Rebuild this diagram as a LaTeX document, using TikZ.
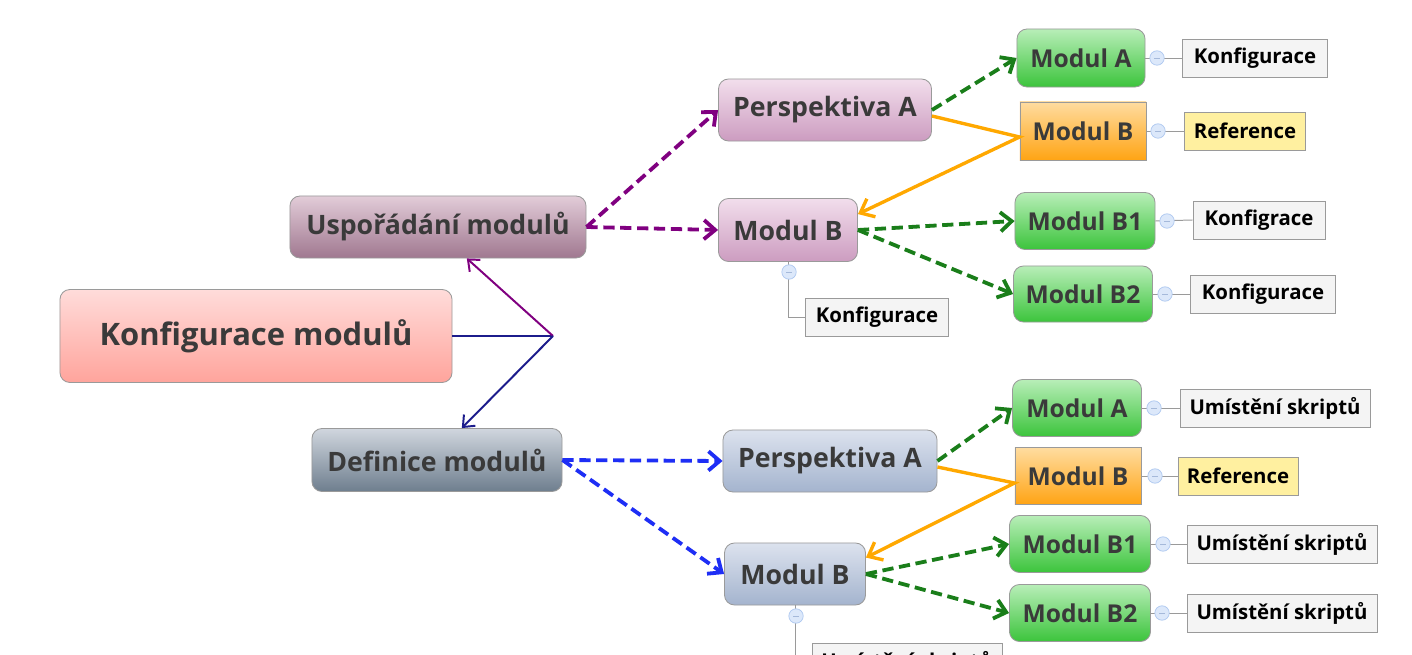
\documentclass[tikz,border=0pt]{standalone}
\usepackage{fontspec}
\setmainfont{Open Sans}
\usetikzlibrary{arrows.meta,calc,positioning}
\definecolor{RootTop}{HTML}{FFDCDA}
\definecolor{RootBottom}{HTML}{FFA49C}
\definecolor{MauveTop}{HTML}{E2CCD8}
\definecolor{MauveBottom}{HTML}{A07890}
\definecolor{SlateTop}{HTML}{D0D6DE}
\definecolor{SlateBottom}{HTML}{6E7E8E}
\definecolor{PinkTop}{HTML}{F2DEEC}
\definecolor{PinkBottom}{HTML}{CC9CC0}
\definecolor{SteelTop}{HTML}{DCE2EE}
\definecolor{SteelBottom}{HTML}{A4B4CE}
\definecolor{GreenTop}{HTML}{B8EEB8}
\definecolor{GreenBottom}{HTML}{3CC43C}
\definecolor{OrangeTop}{HTML}{FFDCA0}
\definecolor{OrangeBottom}{HTML}{FFA414}
\definecolor{NoteFill}{HTML}{F4F4F4}
\definecolor{RefFill}{HTML}{FFF0A0}
\definecolor{Ink}{HTML}{3A3A3A}
\definecolor{Frame}{HTML}{9A9A9A}
\definecolor{ButtonFill}{HTML}{DCE8FA}
\definecolor{ButtonRim}{HTML}{AEC8F0}
\definecolor{FlowPurple}{HTML}{800080}
\definecolor{FlowNavy}{HTML}{1C1C8C}
\definecolor{FlowBlue}{HTML}{1E2EF5}
\definecolor{FlowGreen}{HTML}{1A7E1A}
\definecolor{RefOrange}{HTML}{FFA800}

\begin{document}
\begin{tikzpicture}[
    x=0.025cm, y=-0.025cm,
    topic/.style={
        rounded corners=2.5mm,
        draw=Frame,
        line width=0.6pt,
        inner sep=0pt,
        text=Ink,
        font=\bfseries\fontsize{19}{22}\selectfont
    },
    mauve/.style={top color=MauveTop, bottom color=MauveBottom},
    slate/.style={top color=SlateTop, bottom color=SlateBottom},
    pinkish/.style={top color=PinkTop, bottom color=PinkBottom},
    steel/.style={top color=SteelTop, bottom color=SteelBottom},
    module/.style={topic, top color=GreenTop, bottom color=GreenBottom,
                   font=\bfseries\fontsize{17.5}{20}\selectfont},
    linked/.style={topic, rounded corners=0pt, top color=OrangeTop,
                   bottom color=OrangeBottom,
                   font=\bfseries\fontsize{17.5}{20}\selectfont},
    note/.style={draw=Frame, fill=NoteFill, line width=0.6pt, inner sep=0pt,
                 minimum height=0.95cm, text=black,
                 font=\bfseries\fontsize{14.5}{17}\selectfont},
    button/.style={circle, draw=ButtonRim, fill=ButtonFill, minimum size=0.36cm,
                   inner sep=0pt, line width=0.5pt,
                   path picture={\draw[ButtonRim!80!gray, line width=0.4pt]
                       ([xshift=-0.7mm]path picture bounding box.center) --
                       ([xshift=0.7mm]path picture bounding box.center);}},
    trunk/.style={-{Straight Barb[length=2.4mm,width=4mm]}, line width=1.4pt},
    flow/.style={-{Straight Barb[length=2.8mm,width=4.8mm]}, line width=2.7pt,
                 dash pattern=on 8pt off 4pt},
    refline/.style={-{Straight Barb[length=3mm,width=5mm]}, line width=2.4pt,
                    draw=RefOrange},
    stem/.style={draw=Frame, line width=0.7pt}
]
\useasboundingbox (0,0) rectangle (1412,655);
\clip (0,0) rectangle (1412,655);
\fill[white] (0,0) rectangle (1412,655);

% Root and main branches
\node[topic, top color=RootTop, bottom color=RootBottom, minimum width=9.8cm,
      minimum height=2.325cm, font=\bfseries\fontsize{22}{26}\selectfont]
    (root) at (256,336) {Konfigurace modulů};
\node[topic, mauve, minimum width=7.4cm, minimum height=1.55cm]
    (layout) at (438,227) {Uspořádání modulů};
\node[topic, slate, minimum width=6.25cm, minimum height=1.575cm]
    (define) at (437,460) {Definice modulů};

\coordinate (fork) at (553,336);
\draw[line width=1.4pt, FlowNavy] (root.east) -- (fork);
\draw[trunk, FlowPurple] (fork) -- ([xshift=7.2mm]layout.south);
\draw[trunk, FlowNavy] (fork) -- ([xshift=6.2mm]define.north);

% Upper branch
\node[topic, pinkish, minimum width=5.325cm, minimum height=1.55cm]
    (upPersp) at (825,110) {Perspektiva A};
\node[topic, pinkish, minimum width=3.475cm, minimum height=1.575cm]
    (upModB) at (788,230) {Modul B};
\node[module, minimum width=3.2cm, minimum height=1.45cm]
    (upModA) at (1081,58) {Modul A};
\node[linked, minimum width=3.15cm, minimum height=1.45cm]
    (upRef) at (1083,131) {Modul B};
\node[module, minimum width=3.5cm, minimum height=1.425cm]
    (upModBa) at (1085,221) {Modul B1};
\node[module, minimum width=3.475cm, minimum height=1.4cm]
    (upModBb) at (1083,294) {Modul B2};

\node[note, minimum width=3.625cm] (upNoteA) at (1255,58) {Konfigurace};
\node[note, fill=RefFill, minimum width=3.025cm] (upNoteRef) at (1245,131) {Reference};
\node[note, minimum width=3.3cm] (upNoteBa) at (1259,220) {Konfigrace};
\node[note, minimum width=3.625cm] (upNoteBb) at (1263,294) {Konfigurace};
\node[note, minimum width=3.575cm] (upNoteB) at (877,317) {Konfigurace};

\draw[flow, FlowPurple] (layout.east) -- (upPersp.west);
\draw[flow, FlowPurple] (layout.east) -- (upModB.west);
\draw[flow, FlowGreen] (upPersp.east) -- (upModA.west);
\draw[flow, FlowGreen] (upModB.east) -- (upModBa.west);
\draw[flow, FlowGreen] (upModB.east) -- (upModBb.west);
\draw[refline] ([yshift=-1.5mm]upPersp.east) -- ([yshift=-1.5mm]upRef.west)
    -- ([yshift=-4mm]upModB.north east);

\draw[stem] (upModA.east) -- (upNoteA.west);
\draw[stem] (upRef.east) -- (upNoteRef.west);
\draw[stem] (upModBa.east) -- (upNoteBa.west);
\draw[stem] (upModBb.east) -- (upNoteBb.west);
\draw[stem] (upModB.south) |- (upNoteB.west);
\node[button] (upBtnA) at (1157,58) {};
\node[button] (upBtnRef) at (1158,131) {};
\node[button] (upBtnBa) at (1167,221) {};
\node[button] (upBtnBb) at (1165,294) {};
\node[button] (upBtnB) at (789,272) {};

% Lower branch
\node[topic, steel, minimum width=5.35cm, minimum height=1.55cm]
    (loPersp) at (830,461) {Perspektiva A};
\node[topic, steel, minimum width=3.525cm, minimum height=1.55cm]
    (loModB) at (795,574) {Modul B};
\node[module, minimum width=3.225cm, minimum height=1.425cm]
    (loModA) at (1077,408) {Modul A};
\node[linked, minimum width=3.15cm, minimum height=1.425cm]
    (loRef) at (1078,476) {Modul B};
\node[module, minimum width=3.525cm, minimum height=1.425cm]
    (loModBa) at (1080,544) {Modul B1};
\node[module, minimum width=3.525cm, minimum height=1.425cm]
    (loModBb) at (1080,613) {Modul B2};

\node[note, minimum width=4.75cm] (loNoteA) at (1275,408) {Umístění skriptů};
\node[note, fill=RefFill, minimum width=3cm] (loNoteRef) at (1238,476) {Reference};
\node[note, minimum width=4.75cm] (loNoteBa) at (1282,544) {Umístění skriptů};
\node[note, minimum width=4.75cm] (loNoteBb) at (1282,613) {Umístění skriptů};
\node[note, minimum width=4.75cm] (loNoteB) at (907,662) {Umístění skriptů};

\draw[flow, FlowBlue] (define.east) -- (loPersp.west);
\draw[flow, FlowBlue] (define.east) -- (loModB.west);
\draw[flow, FlowGreen] (loPersp.east) -- (loModA.west);
\draw[flow, FlowGreen] (loModB.east) -- (loModBa.west);
\draw[flow, FlowGreen] (loModB.east) -- (loModBb.west);
\draw[refline] ([yshift=-1.5mm]loPersp.east) -- ([yshift=-1.75mm]loRef.west)
    -- ([yshift=-3.75mm]loModB.north east);

\draw[stem] (loModA.east) -- (loNoteA.west);
\draw[stem] (loRef.east) -- (loNoteRef.west);
\draw[stem] (loModBa.east) -- (loNoteBa.west);
\draw[stem] (loModBb.east) -- (loNoteBb.west);
\draw[stem] (loModB.south) |- (loNoteB.west);
\node[button] (loBtnA) at (1154,408) {};
\node[button] (loBtnRef) at (1155,476) {};
\node[button] (loBtnBa) at (1163,544) {};
\node[button] (loBtnBb) at (1162,613) {};
\node[button] (loBtnB) at (796,616) {};

\end{tikzpicture}
\end{document}
